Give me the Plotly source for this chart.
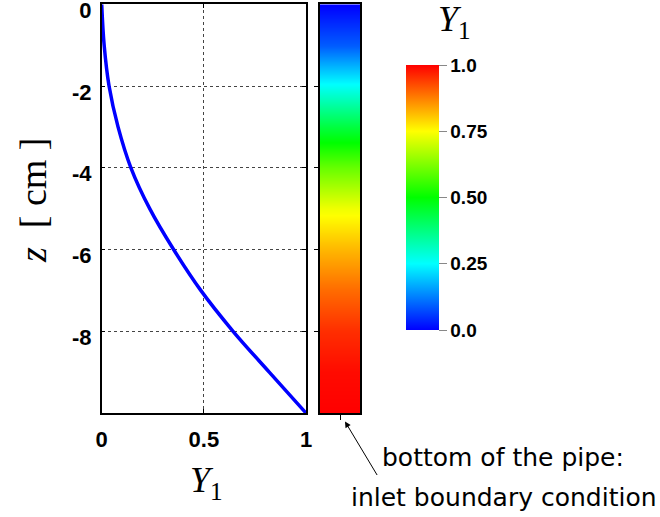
import plotly.graph_objects as go

# ---- data ----
z_cm = [0, -1, -2, -3, -4, -5, -6, -7, -8, -9, -10]
Y1 = [0.0, 0.012, 0.036, 0.08, 0.143, 0.235, 0.352, 0.485, 0.643, 0.82, 1.0]
strip_value = [0.0, 0.09, 0.26, 0.44, 0.6, 0.735, 0.82, 0.895, 0.955, 0.99, 1.0]
x_ticks = [0, 0.5, 1]
x_ticktext = ["0", "0.5", "1"]
y_ticks = [0, -2, -4, -6, -8]
y_ticktext = ["0", "-2", "-4", "-6", "-8"]
cb_ticks = [0, 0.25, 0.5, 0.75, 1.0]
cb_ticktext = ["0.0", "0.25", "0.50", "0.75", "1.0"]

W, H = 660, 517
def px(x):
    return x / W
def py(y):
    return 1 - y / H

colorscale = [[0.0, "#0000ff"], [0.25, "#00ffff"], [0.5, "#00ff00"],
              [0.75, "#ffff00"], [1.0, "#ff0000"]]

fig = go.Figure()
fig.add_trace(go.Scatter(x=Y1, y=z_cm, mode="lines",
                         line=dict(color="#0000ff", width=3.5, shape="spline",
                                   smoothing=1.0),
                         xaxis="x", yaxis="y", showlegend=False))
fig.add_trace(go.Heatmap(x=[-0.5, 0.5], y=z_cm, z=[[v, v] for v in strip_value],
                         coloraxis="coloraxis", zsmooth="best",
                         xaxis="x2", yaxis="y2", showlegend=False))

ydom = [py(413), py(4.3)]
tickfont = dict(family="Liberation Sans", size=22, color="black", weight="bold")

fig.update_layout(
    width=W, height=H, margin=dict(l=0, r=0, t=0, b=0, autoexpand=False),
    paper_bgcolor="white", plot_bgcolor="white",
    xaxis=dict(domain=[px(101.7), px(306)], range=[0, 1], tickvals=x_ticks,
               ticktext=x_ticktext, ticks="inside", ticklen=4, tickcolor="black",
               showline=True, linecolor="black", linewidth=1.5, mirror="ticks",
               showgrid=True, gridcolor="#444", griddash="dot", gridwidth=1,
               zeroline=False, tickfont=tickfont, ticklabelstandoff=6,
               ticklabeloverflow="allow", automargin=False),
    yaxis=dict(domain=ydom, range=[-10, 0], tickvals=y_ticks, ticktext=y_ticktext,
               ticks="inside", ticklen=4, tickcolor="black",
               showline=True, linecolor="black", linewidth=1.5, mirror="ticks",
               showgrid=True, gridcolor="#444", griddash="dot", gridwidth=1,
               zeroline=False, tickfont=tickfont, ticklabelstandoff=4,
               ticklabelshift=6,
               ticklabeloverflow="allow", automargin=False),
    xaxis2=dict(domain=[px(320), px(360)], range=[-0.5, 0.5], tickvals=[0],
                showticklabels=False, ticks="outside", ticklen=5, tickcolor="black",
                showline=True, linecolor="black", linewidth=1.5, mirror=True,
                showgrid=False, zeroline=False, anchor="y2", automargin=False),
    yaxis2=dict(domain=ydom, range=[-10, 0], tickvals=y_ticks[1:],
                showticklabels=False, ticks="outside", ticklen=4, tickcolor="black",
                showline=True, linecolor="black", linewidth=1.5, mirror=True,
                showgrid=False, zeroline=False, anchor="x2", automargin=False),
    coloraxis=dict(colorscale=colorscale, cmin=0, cmax=1,
                   colorbar=dict(x=px(406), xanchor="left", xpad=0, ypad=0,
                                 y=py(197.5), yanchor="middle",
                                 len=265, lenmode="pixels", thickness=33,
                                 thicknessmode="pixels", outlinewidth=0,
                                 tickvals=cb_ticks, ticktext=cb_ticktext,
                                 tickprefix="\u00a0",
                                 ticks="outside", ticklen=8, tickcolor="#888",
                                 tickfont=dict(family="Liberation Sans", size=19,
                                               color="black", weight="bold"))),
)

serif = "Liberation Serif"
fig.add_annotation(x=px(33), y=py(200), xref="paper", yref="paper",
                   xanchor="center", yanchor="middle",
                   text="<i>z</i>\u00a0\u00a0[\u00a0cm\u00a0]", textangle=-90,
                   showarrow=False,
                   font=dict(family=serif, size=38, color="black"))
fig.add_annotation(x=px(206), y=py(482), xref="paper", yref="paper",
                   xanchor="center", yanchor="middle",
                   text="<i>Y</i><sub>1</sub>", showarrow=False,
                   font=dict(family=serif, size=36, color="black"))
fig.add_annotation(x=px(454), y=py(21), xref="paper", yref="paper",
                   xanchor="center", yanchor="middle",
                   text="<i>Y</i><sub>1</sub>", showarrow=False,
                   font=dict(family=serif, size=36, color="black"))
fig.add_annotation(x=px(345), y=py(421.5), xref="paper", yref="paper",
                   ax=33, ay=55, text="", showarrow=True, arrowhead=2,
                   arrowsize=1.2, arrowwidth=1, arrowcolor="black")
fig.add_annotation(x=px(503), y=py(457), xref="paper", yref="paper",
                   xanchor="center", yanchor="middle",
                   text="bottom of the pipe:", showarrow=False,
                   font=dict(family="DejaVu Sans", size=25, color="black"))
fig.add_annotation(x=px(504), y=py(497), xref="paper", yref="paper",
                   xanchor="center", yanchor="middle",
                   text="inlet boundary condition", showarrow=False,
                   font=dict(family="DejaVu Sans", size=25, color="black"))

fig.write_html("out.html")
